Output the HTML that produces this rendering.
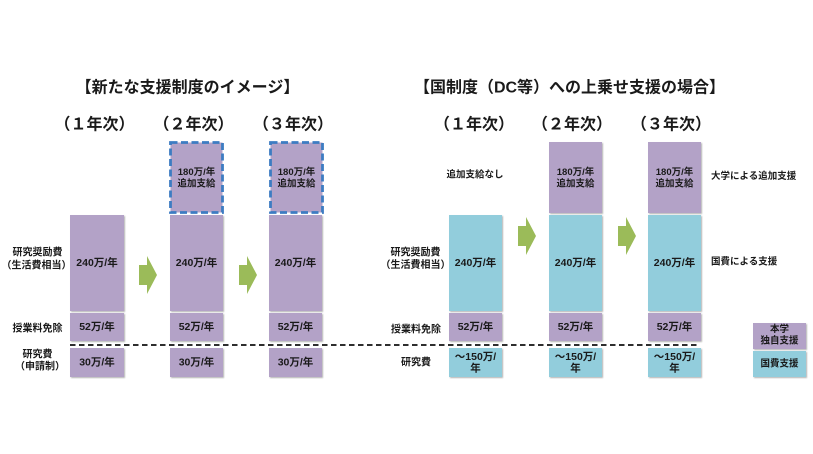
<!DOCTYPE html>
<html><head><meta charset="utf-8"><style>
html,body{margin:0;padding:0;background:#fff;width:813px;height:454px;overflow:hidden}
svg{display:block}
text{font-family:"Liberation Sans","Noto Sans CJK JP",sans-serif;font-weight:bold;fill:#1a1a1a}
</style></head><body>
<svg width="813" height="454" viewBox="0 0 813 454" xmlns="http://www.w3.org/2000/svg">
<defs>
<filter id="sh" x="-10%" y="-10%" width="130%" height="130%">
<feDropShadow dx="1" dy="1" stdDeviation="0.8" flood-color="#000" flood-opacity="0.3"/>
</filter>
</defs>
<rect width="813" height="454" fill="#fff"/>

<!-- Titles -->
<text x="187.5" y="88" font-size="16" text-anchor="middle" dominant-baseline="central">【新たな支援制度のイメージ】</text>
<text x="569.5" y="88" font-size="16" text-anchor="middle" dominant-baseline="central">【国制度（DC等）への上乗せ支援の場合】</text>

<!-- Year labels -->
<g font-size="16" text-anchor="middle">
<text x="94.5" y="125" dominant-baseline="central">（１年次）</text>
<text x="193.5" y="125" dominant-baseline="central">（２年次）</text>
<text x="293" y="125" dominant-baseline="central">（３年次）</text>
<text x="474" y="125" dominant-baseline="central">（１年次）</text>
<text x="572" y="125" dominant-baseline="central">（２年次）</text>
<text x="671" y="125" dominant-baseline="central">（３年次）</text>
</g>

<!-- Left boxes -->
<g filter="url(#sh)">
<rect x="70" y="215" width="54" height="96" fill="#b3a2c7"/>
<rect x="70" y="313" width="54" height="28" fill="#b3a2c7"/>
<rect x="70" y="348" width="54" height="29" fill="#b3a2c7"/>
<rect x="170" y="215" width="53" height="96" fill="#b3a2c7"/>
<rect x="170" y="313" width="53" height="28" fill="#b3a2c7"/>
<rect x="170" y="348" width="53" height="29" fill="#b3a2c7"/>
<rect x="269" y="215" width="53" height="96" fill="#b3a2c7"/>
<rect x="269" y="313" width="53" height="28" fill="#b3a2c7"/>
<rect x="269" y="348" width="53" height="29" fill="#b3a2c7"/>
</g>
<!-- dashed top boxes -->
<rect x="170.5" y="142.5" width="52" height="70" fill="#b3a2c7" stroke="#3d7cc2" stroke-width="2.8" stroke-dasharray="7 3.5"/>
<rect x="270.5" y="142.5" width="52" height="70" fill="#b3a2c7" stroke="#3d7cc2" stroke-width="2.8" stroke-dasharray="7 3.5"/>

<!-- Right boxes -->
<g filter="url(#sh)">
<rect x="549" y="142" width="53" height="71" fill="#b3a2c7"/>
<rect x="648" y="142" width="53" height="71" fill="#b3a2c7"/>
<rect x="449" y="215" width="53" height="96" fill="#92cddc"/>
<rect x="549" y="215" width="53" height="96" fill="#92cddc"/>
<rect x="648" y="215" width="53" height="96" fill="#92cddc"/>
<rect x="449" y="313" width="53" height="28" fill="#b3a2c7"/>
<rect x="549" y="313" width="53" height="28" fill="#b3a2c7"/>
<rect x="648" y="313" width="53" height="28" fill="#b3a2c7"/>
<rect x="449" y="348" width="53" height="29" fill="#92cddc"/>
<rect x="549" y="348" width="53" height="29" fill="#92cddc"/>
<rect x="648" y="348" width="53" height="29" fill="#92cddc"/>
<rect x="753" y="323" width="53" height="26" fill="#b3a2c7"/>
<rect x="753" y="351" width="53" height="26" fill="#92cddc"/>
</g>

<!-- Arrows -->
<g fill="#9bbb59">
<polygon points="139,265 147,265 147,256 157,275 147,294 147,285 139,285"/>
<polygon points="239,265 247,265 247,256 257,275 247,294 247,285 239,285"/>
<polygon points="518,226 526,226 526,217 536,236 526,255 526,246 518,246"/>
<polygon points="618,226 626,226 626,217 636,236 626,255 626,246 618,246"/>
</g>

<!-- Dashed separator -->
<line x1="70" y1="345" x2="700" y2="345" stroke="#111" stroke-width="1.8" stroke-dasharray="5.5 3.5"/>

<!-- Box texts -->
<g font-size="10.5" text-anchor="middle">
<text x="97" y="263" dominant-baseline="central">240万/年</text>
<text x="97" y="327" dominant-baseline="central">52万/年</text>
<text x="97" y="362.5" dominant-baseline="central">30万/年</text>
<text x="196.5" y="263" dominant-baseline="central">240万/年</text>
<text x="196.5" y="327" dominant-baseline="central">52万/年</text>
<text x="196.5" y="362.5" dominant-baseline="central">30万/年</text>
<text x="295.5" y="263" dominant-baseline="central">240万/年</text>
<text x="295.5" y="327" dominant-baseline="central">52万/年</text>
<text x="295.5" y="362.5" dominant-baseline="central">30万/年</text>

<text x="475.5" y="263" dominant-baseline="central">240万/年</text>
<text x="575.5" y="263" dominant-baseline="central">240万/年</text>
<text x="674.5" y="263" dominant-baseline="central">240万/年</text>
<text x="475.5" y="327" dominant-baseline="central">52万/年</text>
<text x="575.5" y="327" dominant-baseline="central">52万/年</text>
<text x="674.5" y="327" dominant-baseline="central">52万/年</text>
<text x="475.5" y="357" dominant-baseline="central">～150万/</text>
<text x="475.5" y="368.5" dominant-baseline="central">年</text>
<text x="575.5" y="357" dominant-baseline="central">～150万/</text>
<text x="575.5" y="368.5" dominant-baseline="central">年</text>
<text x="674.5" y="357" dominant-baseline="central">～150万/</text>
<text x="674.5" y="368.5" dominant-baseline="central">年</text>
</g>
<g font-size="9.5" text-anchor="middle">
<text x="196.5" y="172.5" dominant-baseline="central">180万/年</text>
<text x="196.5" y="184" dominant-baseline="central">追加支給</text>
<text x="296.5" y="172.5" dominant-baseline="central">180万/年</text>
<text x="296.5" y="184" dominant-baseline="central">追加支給</text>
<text x="575.5" y="172.5" dominant-baseline="central">180万/年</text>
<text x="575.5" y="184" dominant-baseline="central">追加支給</text>
<text x="674.5" y="172.5" dominant-baseline="central">180万/年</text>
<text x="674.5" y="184" dominant-baseline="central">追加支給</text>
<text x="779.5" y="329.5" dominant-baseline="central">本学</text>
<text x="779.5" y="341" dominant-baseline="central">独自支援</text>
<text x="779.5" y="364" dominant-baseline="central">国費支援</text>
<text x="475" y="175" dominant-baseline="central">追加支給なし</text>
</g>

<!-- Side labels -->
<g font-size="10" text-anchor="middle">
<text x="37.5" y="253" dominant-baseline="central">研究奨励費</text>
<text x="36.5" y="266" dominant-baseline="central">（生活費相当）</text>
<text x="37.5" y="329" dominant-baseline="central">授業料免除</text>
<text x="37.5" y="355" dominant-baseline="central">研究費</text>
<text x="40" y="367" dominant-baseline="central">（申請制）</text>

<text x="415.5" y="253" dominant-baseline="central">研究奨励費</text>
<text x="415.5" y="265.5" dominant-baseline="central">（生活費相当）</text>
<text x="416" y="330" dominant-baseline="central">授業料免除</text>
<text x="416" y="363" dominant-baseline="central">研究費</text>
</g>
<g font-size="9.5">
<text x="711" y="176.5" dominant-baseline="central">大学による追加支援</text>
<text x="711" y="262" dominant-baseline="central">国費による支援</text>
</g>
</svg>
</body></html>
